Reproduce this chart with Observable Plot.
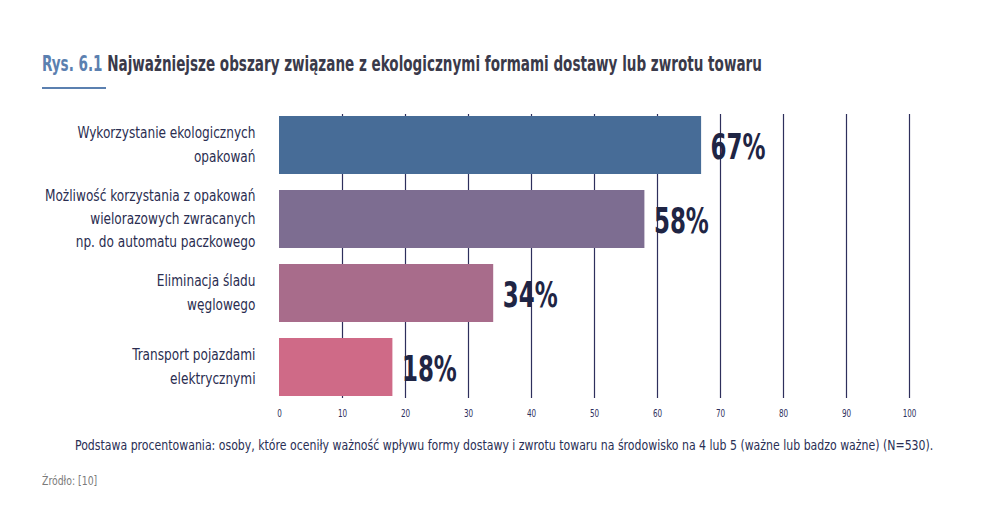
<!DOCTYPE html>
<html><head><meta charset="utf-8">
<script src="https://cdn.jsdelivr.net/npm/d3@7"></script>
<script src="https://cdn.jsdelivr.net/npm/@observablehq/plot@0.6"></script>
<style>
body{margin:0;background:#fff;width:985px;height:507px;position:relative;overflow:hidden;font-family:"DejaVu Sans Condensed",sans-serif;}
#title{position:absolute;left:42px;top:52px;font-weight:bold;font-size:21px;color:#3a3a4a;white-space:nowrap;transform-origin:left top;}
#title .rys{color:#5b80b0;}
#uline{position:absolute;left:42px;top:87px;width:64px;height:2px;background:#5b80b0;}
#chart{position:absolute;left:0;top:100px;}
#note{position:absolute;left:75px;top:437px;font-size:14px;color:#2a2f55;white-space:nowrap;transform-origin:left top;}
#src{position:absolute;left:42px;top:474px;font-size:11.5px;color:#7a7a7a;white-space:nowrap;transform-origin:left top;}
</style></head>
<body>
<div id="title"><span class="rys">Rys. 6.1</span> Najważniejsze obszary związane z ekologicznymi formami dostawy lub zwrotu towaru</div>
<div id="uline"></div>
<div id="chart"></div>
<div id="note">Podstawa procentowania: osoby, które oceniły ważność wpływu formy dostawy i zwrotu towaru na środowisko na 4 lub 5 (ważne lub badzo ważne) (N=530).</div>
<div id="src">Źródło: [10]</div>
<script>
const categories = [
  "Wykorzystanie ekologicznych\nopakowań",
  "Możliwość korzystania z opakowań\nwielorazowych zwracanych\nnp. do automatu paczkowego",
  "Eliminacja śladu\nwęglowego",
  "Transport pojazdami\nelektrycznymi"
];
const values = [67, 58, 34, 18];
const colors = ["#476c97", "#7d6d91", "#a86c8b", "#cf6a87"];
const gridTicks = [10, 20, 30, 40, 50, 60, 70, 80, 90, 100];
const axisTicks = [0, 10, 20, 30, 40, 50, 60, 70, 80, 90, 100];

const data = categories.map((c, i) => ({cat: c, value: values[i], color: colors[i]}));

const chart = Plot.plot({
  width: 985,
  height: 328,
  marginLeft: 279,
  marginRight: 76,
  marginTop: 14,
  marginBottom: 30,
  style: {fontFamily: '"DejaVu Sans Condensed",sans-serif', background: "#fff"},
  x: {domain: [0, 100], ticks: axisTicks, label: null},
  y: {domain: categories, paddingInner: 0.213, paddingOuter: 0, axis: null},
  color: {type: "identity"},
  marks: [
    Plot.ruleX(gridTicks, {stroke: "#2e2f5c", strokeWidth: 1.2}),
    Plot.barX(data, {x: "value", y: "cat", fill: "color"}),
    Plot.axisX({ticks: axisTicks, tickSize: 0, tickPadding: 11, fontSize: 10, fill: "#2e2f5c", label: null, className: "xtick"}),
    Plot.text(data, {x: 0, y: "cat", text: "cat", textAnchor: "end", dx: -24, dy: -3, fontSize: 15, lineHeight: 1.55, fill: "#2a2d50", className: "ylab"}),
    Plot.text(data, {x: "value", y: "cat", text: d => d.value + "%", textAnchor: "start", dx: 9, dy: 2, fontSize: 36, fontWeight: "bold", fill: "#1f2544", className: "vlab"})
  ]
});
document.getElementById("chart").appendChild(chart);

// condense glyphs to mimic the narrow typeface
function condense(sel, k) {
  d3.select(chart).selectAll(sel).each(function() {
    const w = this.getComputedTextLength();
    this.setAttribute("lengthAdjust", "spacingAndGlyphs");
    this.setAttribute("textLength", (w * k).toFixed(1));
  });
}
condense(".vlab text", 0.71);
condense(".ylab tspan", 0.9);
condense(".xtick text", 0.8);

function fit(id, target) {
  const el = document.getElementById(id);
  el.style.transform = "scaleX(" + (target / el.scrollWidth) + ")";
}
fit("title", 720);
fit("note", 858);
fit("src", 55);
</script>
</body></html>
